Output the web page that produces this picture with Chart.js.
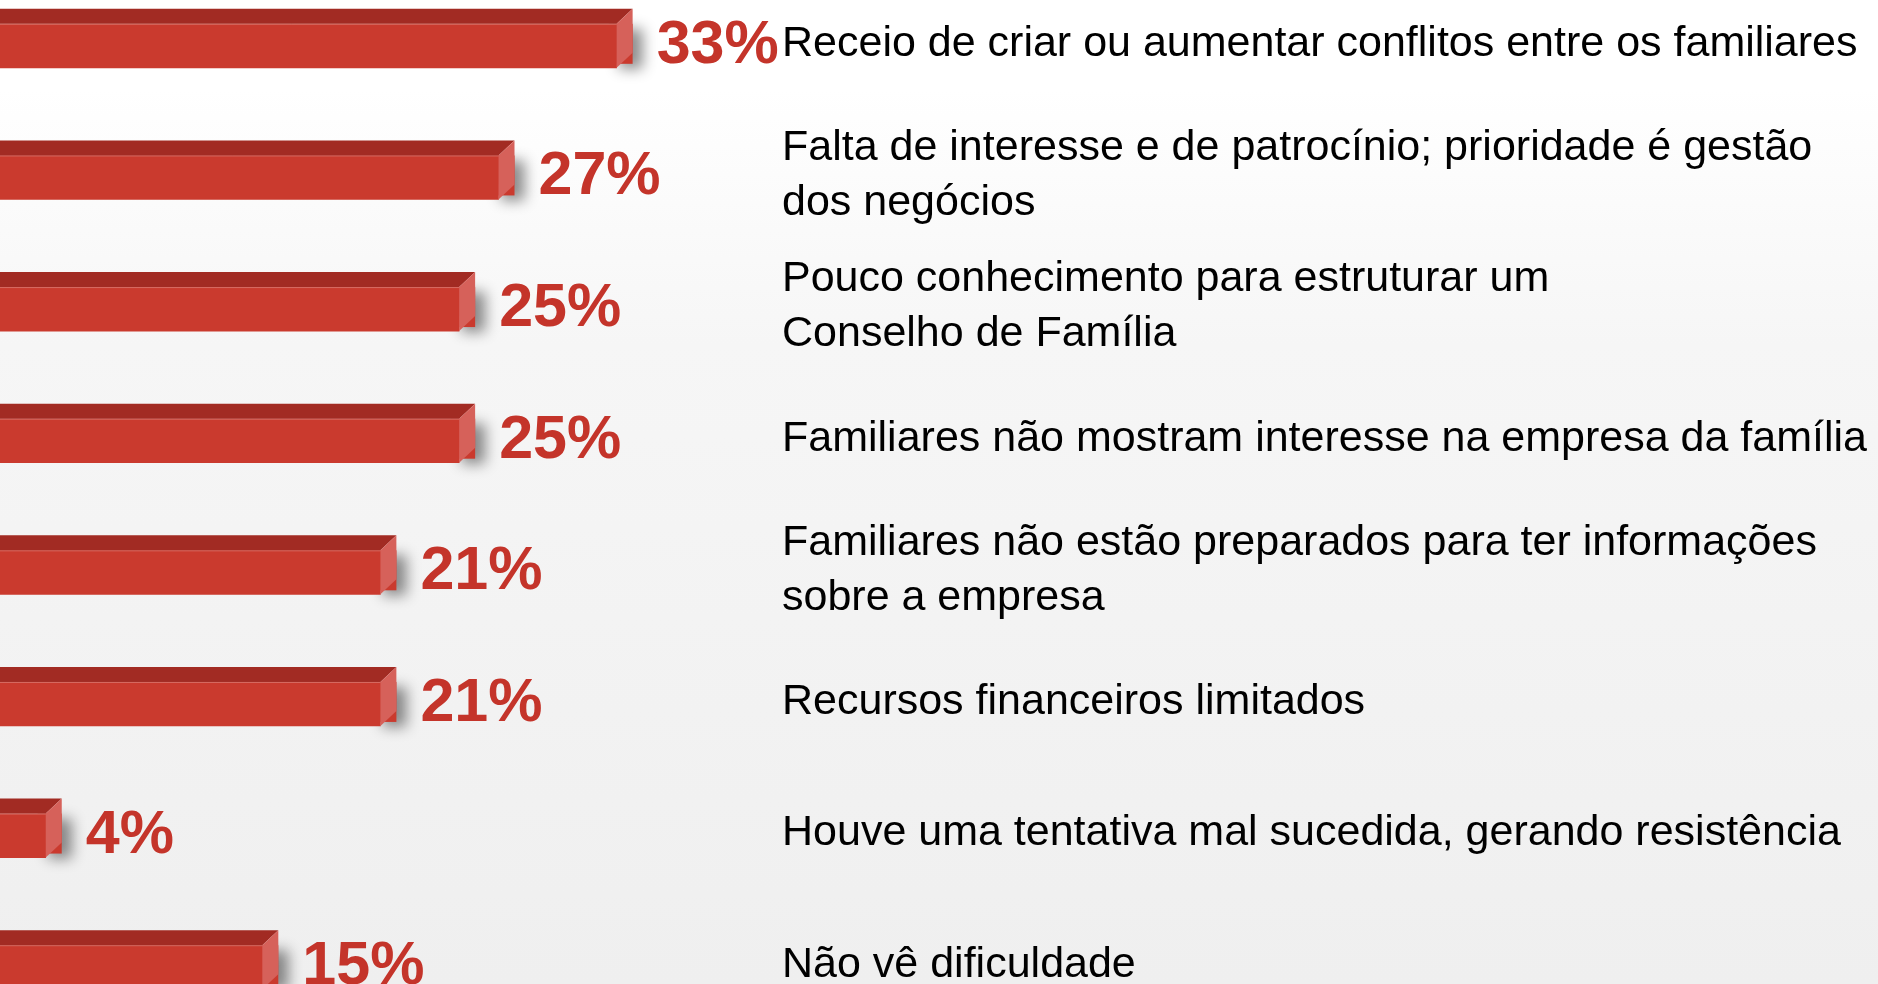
<!DOCTYPE html>
<html lang="pt">
<head>
<meta charset="utf-8">
<title>Dificuldades para criar um Conselho de Família</title>
<script src="https://cdn.jsdelivr.net/npm/chart.js@4.4.1/dist/chart.umd.min.js"></script>
<style>
  html, body {
    margin: 0; padding: 0; width: 1878px; height: 984px; overflow: hidden;
    background: linear-gradient(to bottom, #ffffff 0%, #ffffff 9%, #f6f6f6 35%, #efefef 100%);
  }
  #wrap { position: absolute; left: -33px; top: -20px; width: 1911px; height: 1053px; }
</style>
</head>
<body>
<div id="wrap"><canvas id="barChart"></canvas></div>
<script>
const categories = [
  'Receio de criar ou aumentar conflitos entre os familiares',
  ['Falta de interesse e de patrocínio; prioridade é gestão', 'dos negócios'],
  ['Pouco conhecimento para estruturar um', 'Conselho de Família'],
  'Familiares não mostram interesse na empresa da família',
  ['Familiares não estão preparados para ter informações', 'sobre a empresa'],
  'Recursos financeiros limitados',
  'Houve uma tentativa mal sucedida, gerando resistência',
  'Não vê dificuldade'
];
const percentages = [33, 27, 25, 25, 21, 21, 4, 15];

const FRONT = '#ca3a2e';
const TOP = '#a22b23';
const SIDE = '#d6615a';
const LABEL_RED = '#c4342a';
const DEPTH_X = 16;
const DEPTH_Y = 15;

// fake 3D: shadow first, then top + side faces and the % label after the bars
const bar3d = {
  id: 'bar3d',
  beforeDatasetsDraw(chart) {
    const ctx = chart.ctx;
    chart.getDatasetMeta(0).data.forEach(bar => {
      const half = bar.height / 2;
      ctx.save();
      ctx.shadowColor = 'rgba(0,0,0,0.45)';
      ctx.shadowBlur = 14;
      ctx.shadowOffsetX = 10;
      ctx.shadowOffsetY = 5;
      ctx.fillStyle = FRONT;
      ctx.fillRect(bar.x - 8, bar.y - half, DEPTH_X + 8, bar.height - 4);
      ctx.restore();
    });
  },
  afterDatasetsDraw(chart) {
    const ctx = chart.ctx;
    const meta = chart.getDatasetMeta(0);
    meta.data.forEach((bar, i) => {
      const half = bar.height / 2;
      const t = bar.y - half, b = bar.y + half, r = bar.x, l = bar.base;
      ctx.save();
      ctx.fillStyle = TOP;
      ctx.beginPath();
      ctx.moveTo(l, t);
      ctx.lineTo(r, t);
      ctx.lineTo(r + DEPTH_X, t - DEPTH_Y);
      ctx.lineTo(l, t - DEPTH_Y);
      ctx.closePath();
      ctx.fill();

      ctx.fillStyle = SIDE;
      ctx.beginPath();
      ctx.moveTo(r, t);
      ctx.lineTo(r + DEPTH_X, t - DEPTH_Y);
      ctx.lineTo(r + DEPTH_X, b - DEPTH_Y);
      ctx.lineTo(r, b);
      ctx.closePath();
      ctx.fill();

      ctx.strokeStyle = 'rgba(255,255,255,0.25)';
      ctx.lineWidth = 1;
      ctx.beginPath();
      ctx.moveTo(l, t + 0.5);
      ctx.lineTo(r, t + 0.5);
      ctx.stroke();

      ctx.fillStyle = LABEL_RED;
      ctx.font = 'bold 61px "Liberation Sans", Arial, sans-serif';
      ctx.textAlign = 'left';
      ctx.textBaseline = 'alphabetic';
      ctx.fillText(percentages[i] + '%', r + 40, bar.y + 17);
      ctx.restore();
    });
  }
};

function initChart() {
  const ctx = document.getElementById('barChart').getContext('2d');
  new Chart(ctx, {
    type: 'bar',
    data: {
      labels: categories,
      datasets: [{
        data: percentages,
        backgroundColor: FRONT,
        borderWidth: 0,
        barThickness: 44
      }]
    },
    options: {
      indexAxis: 'y',
      animation: false,
      responsive: true,
      maintainAspectRatio: false,
      layout: { padding: 0 },
      plugins: { legend: { display: false }, tooltip: { enabled: false } },
      scales: {
        x: { display: false, min: 0, max: 41.4 },
        y: {
          position: 'right',
          grid: { display: false, drawTicks: false },
          border: { display: false },
          afterFit: scale => {
            scale.width = 1911 - 815;
            scale.paddingTop = 0;
            scale.paddingBottom = 0;
          },
          ticks: {
            autoSkip: false,
            padding: 0,
            labelOffset: -2,
            color: '#000',
            font: { family: '"Liberation Sans", Arial, sans-serif', size: 43, lineHeight: '55px' }
          }
        }
      }
    },
    plugins: [bar3d]
  });
}

window.addEventListener('DOMContentLoaded', initChart);
</script>
</body>
</html>
